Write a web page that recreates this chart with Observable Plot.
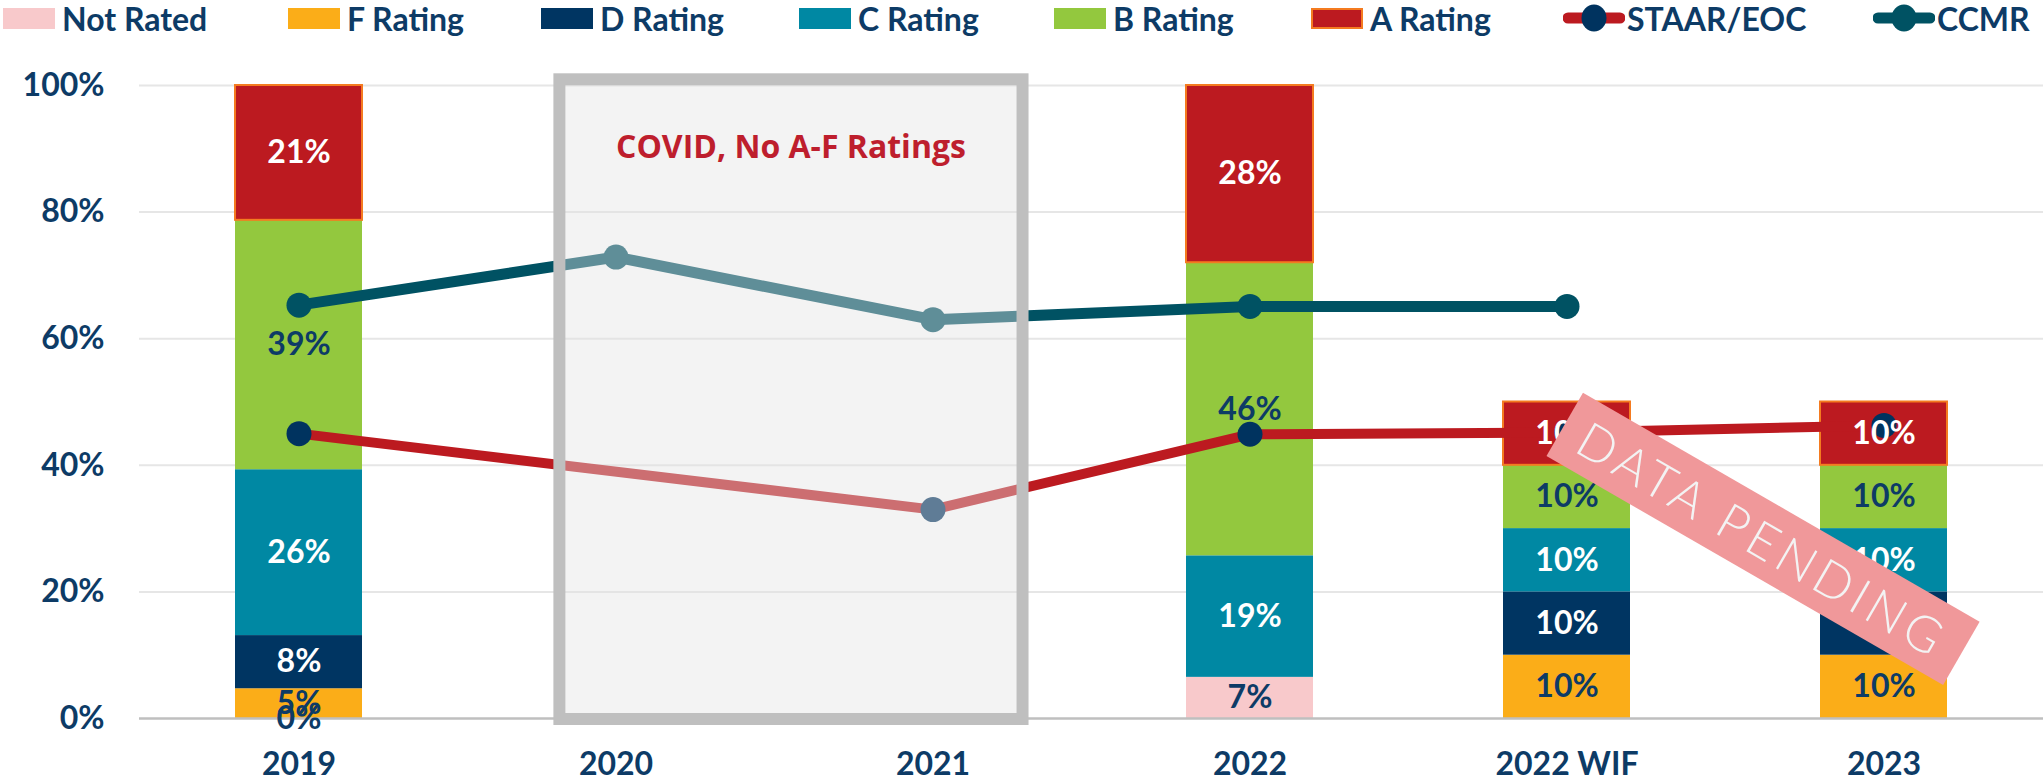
<!DOCTYPE html>
<html>
<head>
<meta charset="utf-8">
<script src="https://cdn.jsdelivr.net/npm/d3@7"></script>
<script src="https://cdn.jsdelivr.net/npm/@observablehq/plot@0.6"></script>
<style>
  html, body { margin: 0; padding: 0; background: #fff; }
  #wrap { width: 2043px; height: 783px; overflow: hidden; }
  #legend { position: relative; height: 40px;
            font-family: Lato, "Noto Sans", sans-serif; font-weight: 700; font-size: 32px; color: #0d3b66; }
  .item { position: absolute; top: 0; height: 36px; display: flex; align-items: center; white-space: nowrap; }
  .sw { width: 52px; height: 21px; margin-right: 7px; box-sizing: border-box; }
  .ln { margin-right: 2px; display: block; }
  svg { display: block; }
</style>
</head>
<body>
<div id="wrap">
  <div id="legend"></div>
  <div id="chart"></div>
</div>
<script>
// ---- data ----
const categories = ["2019", "2020", "2021", "2022", "2022 WIF", "2023"];
const series = ["Not Rated", "F Rating", "D Rating", "C Rating", "B Rating", "A Rating"];
const seriesColors = ["#f8c9cb", "#fbad18", "#003562", "#0088a3", "#93c83e", "#bc1a20"];
const notRated = [0, null, null, 6.5, null, null];
const fRating  = [4.7, null, null, null, 10, 10];
const dRating  = [8.4, null, null, null, 10, 10];
const cRating  = [26.2, null, null, 19.2, 10, 10];
const bRating  = [39.4, null, null, 46.3, 10, 10];
const aRating  = [21.3, null, null, 28.0, 10, 10];
const staar = [45.0, null, 33.0, 44.9, 45.2, 46.3];
const ccmr  = [65.3, 72.9, 63.0, 65.1, 65.1, null];
const yTicks = [0, 20, 40, 60, 80, 100];
const lineSeries = ["STAAR/EOC", "CCMR"];
const covidLabel = "COVID, No A-F Ratings";
const pendingLabel = "DATA PENDING";

// ---- styles / layout ----
const navy = "#0d3b66";
const darkSeries = ["D Rating", "C Rating", "A Rating"];
const staarLine = "#bc1a20", staarDot = "#00335f";
const ccmrColor = "#005263";
const legendLeft = [3, 288, 541, 799, 1054, 1311, 1563, 1873];

const seriesValues = [notRated, fRating, dRating, cRating, bRating, aRating];
const long = [];
series.forEach((s, si) => categories.forEach((c, ci) => {
  const raw = seriesValues[si][ci];
  long.push({series: s, cat: c, raw, v: raw == null ? 0 : raw});
}));
const staarPts = categories.map((c, i) => ({cat: c, v: staar[i]})).filter(d => d.v != null);
const ccmrPts = categories.map((c, i) => ({cat: c, v: ccmr[i]})).filter(d => d.v != null);

// ---- legend ----
const legend = document.getElementById("legend");
series.forEach((s, i) => {
  const it = document.createElement("div"); it.className = "item"; it.style.left = legendLeft[i] + "px";
  const sw = document.createElement("div"); sw.className = "sw"; sw.style.background = seriesColors[i];
  if (s === "A Rating") sw.style.border = "2px solid #f47b20";
  it.appendChild(sw);
  const t = document.createElement("span"); t.textContent = s; it.appendChild(t);
  legend.appendChild(it);
});
[[lineSeries[0], staarLine, staarDot], [lineSeries[1], ccmrColor, ccmrColor]].forEach(([name, lc, dc], j) => {
  const it = document.createElement("div"); it.className = "item";
  it.style.left = legendLeft[series.length + j] + "px";
  const svg = d3.create("svg").attr("class", "ln").attr("width", 62).attr("height", 30);
  svg.append("line").attr("x1", 5).attr("x2", 57).attr("y1", 15).attr("y2", 15)
    .attr("stroke", lc).attr("stroke-width", 11).attr("stroke-linecap", "round");
  svg.append("ellipse").attr("cx", 31).attr("cy", 15).attr("rx", 12.5).attr("ry", 13.5).attr("fill", dc);
  it.appendChild(svg.node());
  const t = document.createElement("span"); t.textContent = name; it.appendChild(t);
  legend.appendChild(it);
});

// ---- chart ----
const chart = Plot.plot({
  width: 2043,
  height: 743,
  marginTop: 45,
  marginBottom: 65,
  marginLeft: 139,
  marginRight: 0,
  style: {fontFamily: "Lato, 'Noto Sans', sans-serif", background: "transparent"},
  x: {domain: categories, paddingInner: 0.6, paddingOuter: 0.3, axis: null},
  y: {domain: [0, 100], axis: null},
  color: {domain: series, range: seriesColors},
  marks: [
    Plot.gridY(yTicks.filter(t => t > 0), {stroke: "#e6e6e6", strokeOpacity: 1, strokeWidth: 2}),
    Plot.axisY(yTicks, {tickSize: 0, tickPadding: 35, tickFormat: d => d + "%", fontSize: 32,
      fontWeight: 700, fill: navy, label: null}),
    Plot.axisX({tickSize: 0, tickPadding: 34, fontSize: 32, fontWeight: 700, fill: navy, label: null}),
    Plot.barY(long, {x: "cat", y: "v", fill: "series",
      stroke: d => d.series === "A Rating" ? "#f47b20" : "none", strokeWidth: 2}),
    Plot.ruleY([0], {stroke: "#bfbfbf", strokeWidth: 2.5}),
    Plot.line(staarPts, {x: "cat", y: "v", stroke: staarLine, strokeWidth: 10}),
    Plot.line(ccmrPts, {x: "cat", y: "v", stroke: ccmrColor, strokeWidth: 11}),
    Plot.dot(staarPts, {x: "cat", y: "v", r: 12.5, fill: staarDot}),
    Plot.dot(ccmrPts, {x: "cat", y: "v", r: 12.5, fill: ccmrColor}),
    Plot.text(long, Plot.stackY({x: "cat", y: "v",
      text: d => d.raw == null ? null : Math.round(d.raw) + "%",
      fill: d => darkSeries.includes(d.series) ? "white" : navy,
      fontSize: 32, fontWeight: 700}))
  ]
});
document.getElementById("chart").appendChild(chart);

// ---- annotations positioned with the plot's scales ----
const sx = chart.scale("x"), sy = chart.scale("y");
const xc = c => sx.apply(c) + sx.bandwidth / 2;
const step = xc("2021") - xc("2020");
const svg = d3.select(chart);
const boxL = xc("2020") - 0.177 * step, boxR = xc("2021") + 0.284 * step;
const boxT = sy.apply(100.9), boxB = sy.apply(0) + 1;
svg.append("rect").attr("x", boxL).attr("y", boxT).attr("width", boxR - boxL).attr("height", boxB - boxT)
  .attr("fill", "#e2e2e2").attr("fill-opacity", 0.42).attr("stroke", "#bfbfbf").attr("stroke-width", 12);
svg.append("text").attr("x", (boxL + boxR) / 2).attr("y", sy.apply(90.4))
  .attr("text-anchor", "middle").attr("dominant-baseline", "central")
  .attr("font-family", "'Open Sans', sans-serif").attr("font-weight", 700).attr("font-size", 32)
  .attr("fill", "#be1e2d").text(covidLabel);

const bx = xc("2022 WIF") + 0.62 * (xc("2023") - xc("2022 WIF"));
const by = sy.apply(28.3);
const g = svg.append("g").attr("transform", `translate(${bx},${by}) rotate(30)`);
g.append("rect").attr("x", -229).attr("y", -36.5).attr("width", 458).attr("height", 73).attr("fill", "#f0989a");
g.append("text").attr("x", 0).attr("y", 0).attr("text-anchor", "middle").attr("dominant-baseline", "central")
  .attr("font-family", "Lato, sans-serif").attr("font-weight", 300).attr("font-size", 50)
  .attr("letter-spacing", 5).attr("fill", "#f3f3f3").text(pendingLabel);
</script>
</body>
</html>
